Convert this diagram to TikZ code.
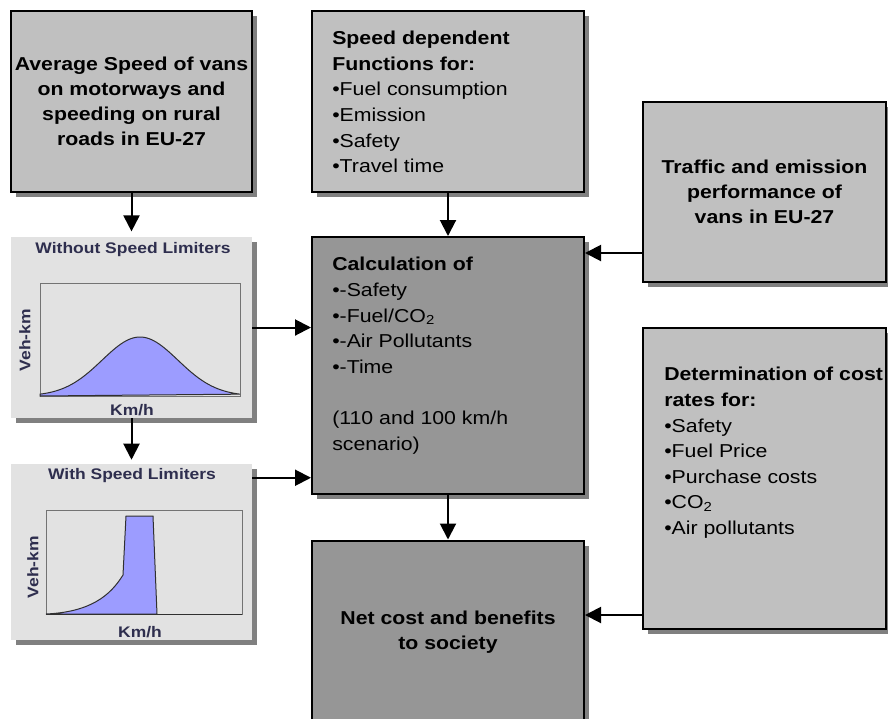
\documentclass[tikz,border=0pt]{standalone}
\usepackage{fontspec}
\setmainfont{Liberation Sans}[FakeStretch=1.14]
\usepackage{xcolor}
\usepackage{tikz}
\usetikzlibrary{arrows.meta, positioning, calc, shadows}

\definecolor{boxlight}{HTML}{C0C0C0}
\definecolor{boxdark}{HTML}{969696}
\definecolor{panelgray}{HTML}{E2E2E2}
\definecolor{curvefill}{HTML}{9C9CFF}
\definecolor{curveline}{HTML}{303030}
\definecolor{charttext}{HTML}{2E2E4E}

\tikzset{
  flowbox/.style={draw=black, line width=1.5pt, fill=boxlight, inner sep=0pt,
    drop shadow={shadow xshift=3.75pt, shadow yshift=-3.75pt, fill=black!50, opacity=1}},
  darkbox/.style={flowbox, fill=boxdark},
  boxtitle/.style={font=\fontsize{14}{18.6}\selectfont\bfseries, align=center},
  boxlist/.style={font=\fontsize{14}{19.2}\selectfont, align=left, anchor=north west, inner sep=0pt},
  panel/.style={fill=panelgray, inner sep=0pt,
    drop shadow={shadow xshift=3.75pt, shadow yshift=-3.75pt, fill=black!50, opacity=1}},
  plotframe/.style={draw=black!55, line width=0.75pt},
  charttitle/.style={font=\fontsize{11.5}{13}\selectfont\bfseries, text=charttext, inner sep=0pt},
  flow/.style={-{Triangle[length=12pt, width=12pt]}, line width=1.5pt},
}

\begin{document}
\begin{tikzpicture}[x=0.75pt, y=-0.75pt]
\clip (0,0) rectangle (888,718);

\node[flowbox, boxtitle, minimum width=180.75pt, minimum height=135.75pt] (avgspeed) at (131.5,101.5)
  {Average Speed of vans\\on motorways and\\speeding on rural\\roads in EU-27};
\node[flowbox, minimum width=204pt, minimum height=135.75pt] (speedfn) at (448,101.5) {};
\node[darkbox, minimum width=204pt, minimum height=192.75pt] (calc) at (448,365.5) {};
\node[darkbox, boxtitle, minimum width=204pt, minimum height=137.25pt] (net) at (448,632)
  {Net cost and benefits\\to society};
\node[flowbox, boxtitle, minimum width=182.25pt, minimum height=135pt] (traffic) at (764.5,192)
  {Traffic and emission\\performance of\\vans in EU-27};
\node[flowbox, minimum width=182.25pt, minimum height=225.75pt] (costrates) at (764.5,478.5) {};

\node[boxlist] (fnlist) at ($(speedfn.north west)+(21,21)$)
  {\textbf{Speed dependent}\\\textbf{Functions for:}\\\textbullet Fuel consumption\\\textbullet Emission\\\textbullet Safety\\\textbullet Travel time};
\node[boxlist] (calclist) at ($(calc.north west)+(21,21)$)
  {\textbf{Calculation of}\\\textbullet-Safety\\\textbullet-Fuel/CO\textsubscript{2}\\\textbullet-Air Pollutants\\\textbullet-Time\\[19.2pt](110 and 100 km/h\\scenario)};
\node[boxlist] (ratelist) at ($(costrates.north west)+(22,40)$)
  {\textbf{Determination of cost}\\\textbf{rates for:}\\\textbullet Safety\\\textbullet Fuel Price\\\textbullet Purchase costs\\\textbullet CO\textsubscript{2}\\\textbullet Air pollutants};

\node[panel, minimum width=180.75pt, minimum height=135.75pt] (nolim) at (131.5,327.5) {};
\draw[plotframe] (40,283) rectangle (240,396);
\filldraw[fill=curvefill, draw=curveline, line width=0.75pt] (40,396)
  -- plot[domain=40:240, samples=80] (\x, {396-59*exp(-0.5*((\x-140)/38)*((\x-140)/38))})
  -- cycle;
\node[charttitle] (nolimtitle) at (133,250) {Without Speed Limiters};
\node[charttitle, rotate=90] (nolimy) at (25,340) {Veh-km};
\node[charttitle] (nolimx) at (132,410) {Km/h};

\node[panel, minimum width=180.75pt, minimum height=132pt] (withlim) at (131.5,552) {};
\draw[plotframe] (46,510) rectangle (242,614);
\filldraw[fill=curvefill, draw=curveline, line width=0.75pt] (46,614)
  .. controls (90,612) and (110,596) .. (123,575) -- (126,516) -- (153,516) -- (157,614) -- cycle;
\draw[curveline, line width=0.75pt] (46,614) -- (242,614);
\node[charttitle] (withlimtitle) at (132,476) {With Speed Limiters};
\node[charttitle, rotate=90] (withlimy) at (33,567) {Veh-km};
\node[charttitle] (withlimx) at (140,632) {Km/h};

\coordinate (limout) at ($(withlim.north east)+(0,14)$);
\coordinate (trafout) at ($(traffic.south west)+(0,-30)$);
\coordinate (rateout) at ($(costrates.south west)+(0,-15)$);

\draw[flow, shorten >=4pt] (avgspeed.south) -- (nolim.north);
\draw[flow, shorten >=3pt] (nolim.south) -- (withlim.north);
\draw[flow] (nolim.east) -- (nolim.east -| calc.west);
\draw[flow] (limout) -- (limout -| calc.west);
\draw[flow] (speedfn.south) -- (calc.north);
\draw[flow] (trafout) -- (trafout -| calc.east);
\draw[flow] (calc.south) -- (net.north);
\draw[flow] (rateout) -- (rateout -| net.east);
\end{tikzpicture}
\end{document}
